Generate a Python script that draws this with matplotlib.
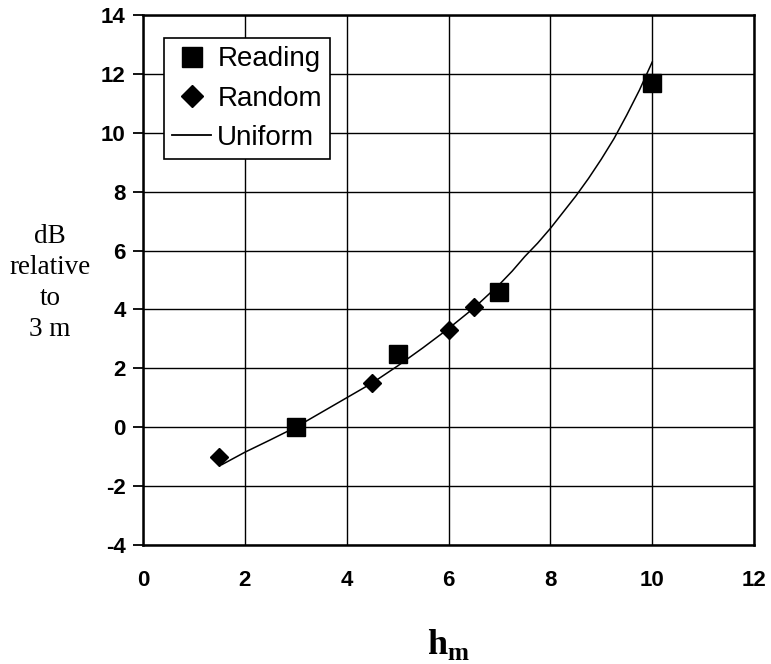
import matplotlib
matplotlib.use("Agg")
import matplotlib.pyplot as plt
from matplotlib.lines import Line2D

# Measured points
reading_h = [3, 5, 7, 10]
reading_db = [0.0, 2.5, 4.6, 11.7]

random_h = [1.5, 4.5, 6, 6.5]
random_db = [-1.0, 1.5, 3.3, 4.1]

# Uniform model curve
uniform_h = [1.55, 2, 2.5, 3, 3.5, 4, 4.5, 5, 5.5, 6, 6.5, 6.75, 7, 7.25, 7.5, 7.75,
             8, 8.25, 8.5, 8.75, 9, 9.25, 9.5, 9.75, 10]
uniform_db = [-1.27, -0.85, -0.43, 0.0, 0.5, 1.0, 1.5, 2.08, 2.7, 3.35, 4.05, 4.45,
              4.85, 5.3, 5.8, 6.25, 6.75, 7.3, 7.85, 8.45, 9.1, 9.8, 10.6, 11.45, 12.4]

x_ticks = [0, 2, 4, 6, 8, 10, 12]
y_ticks = [-4, -2, 0, 2, 4, 6, 8, 10, 12, 14]

plt.rcParams["font.family"] = ["Liberation Sans", "DejaVu Sans"]
plt.rcParams["mathtext.fontset"] = "custom"
plt.rcParams["mathtext.bf"] = "Liberation Serif:bold"
plt.rcParams["mathtext.rm"] = "Liberation Serif"

fig = plt.figure(figsize=(7.71, 6.64), dpi=100)
ax = fig.add_axes([143 / 771, 1 - 545 / 664, (754 - 143) / 771, (545 - 15) / 664])

ax.set_xlim(0, 12)
ax.set_ylim(-4, 14)
ax.set_xticks(x_ticks)
ax.set_yticks(y_ticks)
ax.set_xticklabels([str(t) for t in x_ticks], fontsize=16, fontweight="bold")
ax.set_yticklabels([str(t) for t in y_ticks], fontsize=16, fontweight="bold")
ax.tick_params(axis="x", length=0, pad=18)
ax.tick_params(axis="y", direction="out", length=7.5, width=1.3, pad=5)

ax.grid(True, color="black", linewidth=1.0)
ax.set_axisbelow(True)
for s in ax.spines.values():
    s.set_linewidth(1.8)
    s.set_color("black")

ax.plot(uniform_h, uniform_db, color="black", linewidth=1.1, zorder=3)
ax.plot(reading_h, reading_db, linestyle="none", marker="s", markersize=12.5,
        color="black", zorder=4)
ax.plot(random_h, random_db, linestyle="none", marker="D", markersize=9.2,
        color="black", zorder=4)

handles = [
    Line2D([], [], linestyle="none", marker="s", markersize=14, color="black"),
    Line2D([], [], linestyle="none", marker="D", markersize=11, color="black"),
    Line2D([], [], color="black", linewidth=1.3),
]
leg = ax.legend(handles, ["Reading", "Random", "Uniform"], loc="upper left",
                bbox_to_anchor=(21 / 611, 1 - 23 / 530), fontsize=20,
                frameon=True, fancybox=False, edgecolor="black",
                handlelength=1.4, handletextpad=0.22, borderpad=0.3,
                labelspacing=0.48, borderaxespad=0)
leg.get_frame().set_linewidth(1.2)
leg.get_frame().set_alpha(1)

fig.text(50 / 771, 1 - 283 / 664, "dB\nrelative\nto\n3 m", ha="center", va="center",
         fontsize=19.5, family="Liberation Serif", linespacing=1.3)
fig.text(448 / 771, 1 - 645 / 664, r"$\mathbf{h}_{\mathbf{m}}$", ha="center",
         va="center", fontsize=26)

fig.savefig("out.png", dpi=100)
